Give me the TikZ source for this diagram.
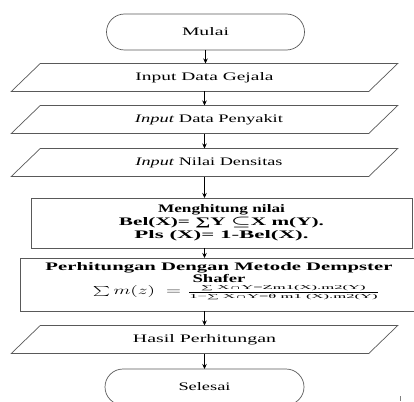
\documentclass[tikz,border=0pt]{standalone}
\usepackage{fontspec}
\setmainfont{Liberation Serif}
\usepackage{graphicx}
\usetikzlibrary{arrows.meta}
\newcommand{\fitw}[2]{\resizebox{#1}{\height}{#2}}
\newcommand{\drawpara}[1]{\draw[iobord] ([xshift=14.5pt]#1.north west) -- ([xshift=14.5pt]#1.north east) -- ([xshift=-14.5pt]#1.south east) -- ([xshift=-14.5pt]#1.south west) -- cycle;}
\tikzset{
  base/.style={inner sep=0pt, outer sep=0pt, font=\fontsize{11.5}{13}\selectfont, text=black},
  term/.style={base, draw=black!65, line width=0.7pt, rounded corners=18pt, minimum width=198pt, minimum height=36pt},
  io/.style={base, minimum width=357.5pt, minimum height=28pt},
  proc/.style={base, draw=black!65, line width=0.7pt},
  boldtxt/.style={base, align=center, font=\fontsize{11.5}{13}\selectfont\bfseries\boldmath},
  iobord/.style={draw=black!65, line width=0.7pt},
  arr/.style={-{Stealth[length=5pt,width=4.5pt]}, line width=0.8pt, black}
}
\begin{document}
\begin{tikzpicture}[x=1pt,y=-1pt]
\useasboundingbox (0,0) rectangle (414,401);
\clip (0,0) rectangle (414,401);

\node[term] (start) at (205.5,32) {\fitw{47pt}{Mulai}};
\node[io] (in1) at (204.5,77.5) {\fitw{138pt}{Input Data Gejala}};
\node[io] (in2) at (204.5,119.5) {\hspace*{9pt}\fitw{148pt}{\textit{Input} Data Penyakit}};
\node[io] (in3) at (204.5,162.5) {\hspace*{9pt}\fitw{147pt}{\textit{Input} Nilai Densitas}};
\drawpara{in1}
\drawpara{in2}
\drawpara{in3}

\node[proc, boldtxt, minimum width=381pt, minimum height=50pt] (calc1) at (221.5,223)
  {\fitw{127pt}{Menghitung nilai}\\\fitw{205pt}{Bel(X)= ∑Y $\subseteq$X m(Y).}\\\fitw{174pt}{Pls (X)= 1-Bel(X).}};

\node[proc, minimum width=400pt, minimum height=53pt] (calc2) at (220,284.5) {};
\node[boldtxt, font=\fontsize{11.5}{12}\selectfont\bfseries] (calc2t) at (219,272.5)
  {\fitw{347pt}{Perhitungan Dengan Metode Dempster}\\\fitw{53pt}{Shafer}};
\node[base] (calc2f) at (237,293)
  {\fitw{88pt}{$\sum m(z) \;=$}\hspace{5pt}\fitw{195pt}{$\frac{\mbox{\fontsize{6}{6}\selectfont ∑ X∩Y=Zm1(X).m2(Y)}}{\mbox{\fontsize{6}{6}\selectfont 1−∑ X∩Y=θ m1 (X).m2(Y)}}$}};

\node[io] (in4) at (204.5,339.5) {\fitw{143pt}{Hasil Perhitungan}};
\drawpara{in4}
\node[term, minimum width=199pt] (end) at (204.5,387) {\fitw{52pt}{Selesai}};

\draw[arr] (start.south) -- (start.south |- in1.north);
\draw[arr] (in1.south) -- (in2.north);
\draw[arr] (in2.south) -- (in3.north);
\draw[arr] (in3.south) -- (in3.south |- calc1.north);
\draw[arr] (in3.south |- calc1.south) -- (in3.south |- calc2.north);
\draw[arr] (in3.south |- calc2.south) -- (in4.north);
\draw[arr] (in4.south) -- (end.north);

\draw[black!50, line width=1pt] (400,396) -- (400,401);
\end{tikzpicture}
\end{document}
